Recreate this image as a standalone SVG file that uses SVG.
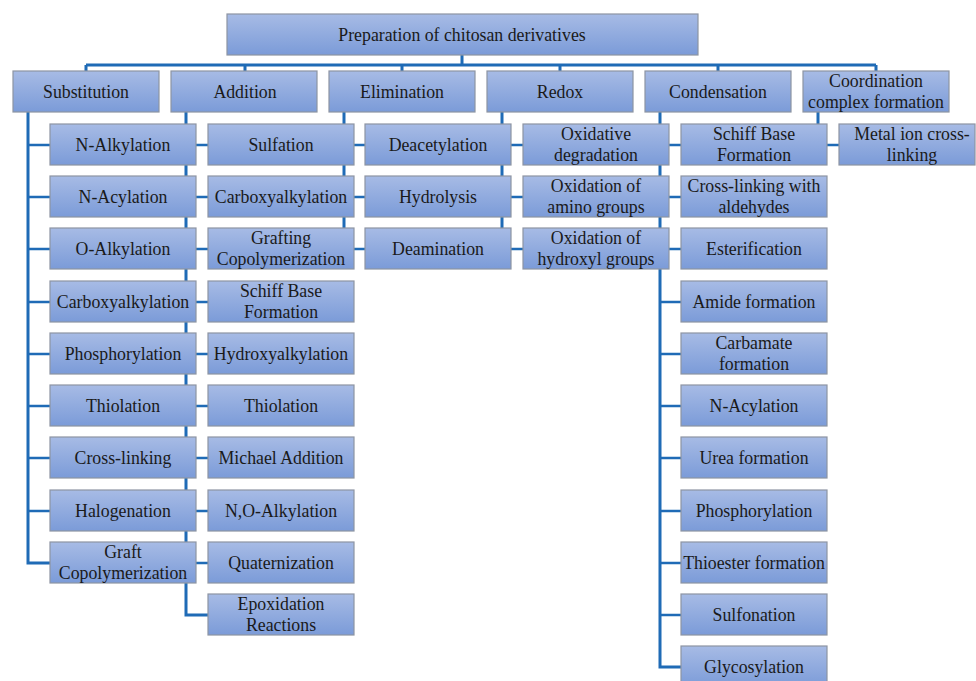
<svg xmlns="http://www.w3.org/2000/svg" width="976" height="681" viewBox="0 0 976 681">
<defs>
<linearGradient id="g" x1="0" y1="0" x2="0" y2="1">
<stop offset="0" stop-color="#a7bbe5"/>
<stop offset="1" stop-color="#7b9bd8"/>
</linearGradient>
<style>
.b{fill:url(#g);stroke:#8d94a2;stroke-width:1.2}
.t{font-size:17.8px;fill:#1a1a1a;text-anchor:middle}
.v{stroke:#1f6bb6;stroke-width:3;fill:none}
.s{stroke:#1f6bb6;stroke-width:2.5;fill:none}
</style>
</defs>
<rect width="976" height="681" fill="#ffffff"/>
<g id="connectors">
<path class="v" d="M462 55V65M86 65H876M86 65V71M245 65V71M402 65V71M560 65V71M718 65V71M876 65V71"/>
<path class="v" d="M28 112V563H50"/>
<path class="s" d="M28 145H50M28 197H50M28 249H50M28 302H50M28 354H50M28 406H50M28 458H50M28 511H50"/>
<path class="v" d="M186 112V615H208"/>
<path class="s" d="M186 145H208M186 197H208M186 249H208M186 302H208M186 354H208M186 406H208M186 458H208M186 511H208M186 563H208"/>
<path class="v" d="M344 112V249"/>
<path class="s" d="M344 145H365M344 197H365M344 249H365"/>
<path class="v" d="M502 112V249"/>
<path class="s" d="M502 145H523M502 197H523M502 249H523"/>
<path class="v" d="M660 112V667H681"/>
<path class="s" d="M660 145H681M660 197H681M660 249H681M660 302H681M660 354H681M660 406H681M660 458H681M660 511H681M660 563H681M660 615H681"/>
<path class="v" d="M818 112V145"/>
<path class="s" d="M818 145H839"/>
</g>
<g id="nodes" font-family="Liberation Serif, DejaVu Serif, serif">
<g id="root"><rect class="b" x="227" y="14" width="471" height="41"/><text class="t" x="462" y="41">Preparation of chitosan derivatives</text></g>
<g id="substitution"><rect class="b" x="13" y="71" width="146" height="41"/><text class="t" x="86" y="98">Substitution</text></g>
<g id="addition"><rect class="b" x="171" y="71" width="146" height="41"/><text class="t" x="245" y="98">Addition</text></g>
<g id="elimination"><rect class="b" x="329" y="71" width="146" height="41"/><text class="t" x="402" y="98">Elimination</text></g>
<g id="redox"><rect class="b" x="487" y="71" width="146" height="41"/><text class="t" x="560" y="98">Redox</text></g>
<g id="condensation"><rect class="b" x="645" y="71" width="146" height="41"/><text class="t" x="718" y="98">Condensation</text></g>
<g id="coordination"><rect class="b" x="803" y="71" width="146" height="41"/><text class="t" x="876" y="87">Coordination<tspan x="876" y="108">complex formation</tspan></text></g>

<g id="s1"><rect class="b" x="50" y="124" width="146" height="41"/><text class="t" x="123" y="151">N-Alkylation</text></g>
<g id="s2"><rect class="b" x="50" y="176" width="146" height="41"/><text class="t" x="123" y="203">N-Acylation</text></g>
<g id="s3"><rect class="b" x="50" y="228" width="146" height="41"/><text class="t" x="123" y="255">O-Alkylation</text></g>
<g id="s4"><rect class="b" x="50" y="281" width="146" height="41"/><text class="t" x="123" y="308">Carboxyalkylation</text></g>
<g id="s5"><rect class="b" x="50" y="333" width="146" height="41"/><text class="t" x="123" y="360">Phosphorylation</text></g>
<g id="s6"><rect class="b" x="50" y="385" width="146" height="41"/><text class="t" x="123" y="412">Thiolation</text></g>
<g id="s7"><rect class="b" x="50" y="437" width="146" height="41"/><text class="t" x="123" y="464">Cross-linking</text></g>
<g id="s8"><rect class="b" x="50" y="490" width="146" height="41"/><text class="t" x="123" y="517">Halogenation</text></g>
<g id="s9"><rect class="b" x="50" y="542" width="146" height="41"/><text class="t" x="123" y="558">Graft<tspan x="123" y="579">Copolymerization</tspan></text></g>

<g id="a1"><rect class="b" x="208" y="124" width="146" height="41"/><text class="t" x="281" y="151">Sulfation</text></g>
<g id="a2"><rect class="b" x="208" y="176" width="146" height="41"/><text class="t" x="281" y="203">Carboxyalkylation</text></g>
<g id="a3"><rect class="b" x="208" y="228" width="146" height="41"/><text class="t" x="281" y="244">Grafting<tspan x="281" y="265">Copolymerization</tspan></text></g>
<g id="a4"><rect class="b" x="208" y="281" width="146" height="41"/><text class="t" x="281" y="297">Schiff Base<tspan x="281" y="318">Formation</tspan></text></g>
<g id="a5"><rect class="b" x="208" y="333" width="146" height="41"/><text class="t" x="281" y="360">Hydroxyalkylation</text></g>
<g id="a6"><rect class="b" x="208" y="385" width="146" height="41"/><text class="t" x="281" y="412">Thiolation</text></g>
<g id="a7"><rect class="b" x="208" y="437" width="146" height="41"/><text class="t" x="281" y="464">Michael Addition</text></g>
<g id="a8"><rect class="b" x="208" y="490" width="146" height="41"/><text class="t" x="281" y="517">N,O-Alkylation</text></g>
<g id="a9"><rect class="b" x="208" y="542" width="146" height="41"/><text class="t" x="281" y="569">Quaternization</text></g>
<g id="a10"><rect class="b" x="208" y="594" width="146" height="41"/><text class="t" x="281" y="610">Epoxidation<tspan x="281" y="631">Reactions</tspan></text></g>

<g id="e1"><rect class="b" x="365" y="124" width="146" height="41"/><text class="t" x="438" y="151">Deacetylation</text></g>
<g id="e2"><rect class="b" x="365" y="176" width="146" height="41"/><text class="t" x="438" y="203">Hydrolysis</text></g>
<g id="e3"><rect class="b" x="365" y="228" width="146" height="41"/><text class="t" x="438" y="255">Deamination</text></g>

<g id="r1"><rect class="b" x="523" y="124" width="146" height="41"/><text class="t" x="596" y="140">Oxidative<tspan x="596" y="161">degradation</tspan></text></g>
<g id="r2"><rect class="b" x="523" y="176" width="146" height="41"/><text class="t" x="596" y="192">Oxidation of<tspan x="596" y="213">amino groups</tspan></text></g>
<g id="r3"><rect class="b" x="523" y="228" width="146" height="41"/><text class="t" x="596" y="244">Oxidation of<tspan x="596" y="265">hydroxyl groups</tspan></text></g>

<g id="c1"><rect class="b" x="681" y="124" width="146" height="41"/><text class="t" x="754" y="140">Schiff Base<tspan x="754" y="161">Formation</tspan></text></g>
<g id="c2"><rect class="b" x="681" y="176" width="146" height="41"/><text class="t" x="754" y="192">Cross-linking with<tspan x="754" y="213">aldehydes</tspan></text></g>
<g id="c3"><rect class="b" x="681" y="228" width="146" height="41"/><text class="t" x="754" y="255">Esterification</text></g>
<g id="c4"><rect class="b" x="681" y="281" width="146" height="41"/><text class="t" x="754" y="308">Amide formation</text></g>
<g id="c5"><rect class="b" x="681" y="333" width="146" height="41"/><text class="t" x="754" y="349">Carbamate<tspan x="754" y="370">formation</tspan></text></g>
<g id="c6"><rect class="b" x="681" y="385" width="146" height="41"/><text class="t" x="754" y="412">N-Acylation</text></g>
<g id="c7"><rect class="b" x="681" y="437" width="146" height="41"/><text class="t" x="754" y="464">Urea formation</text></g>
<g id="c8"><rect class="b" x="681" y="490" width="146" height="41"/><text class="t" x="754" y="517">Phosphorylation</text></g>
<g id="c9"><rect class="b" x="681" y="542" width="146" height="41"/><text class="t" x="754" y="569">Thioester formation</text></g>
<g id="c10"><rect class="b" x="681" y="594" width="146" height="41"/><text class="t" x="754" y="621">Sulfonation</text></g>
<g id="c11"><rect class="b" x="681" y="646" width="146" height="41"/><text class="t" x="754" y="673">Glycosylation</text></g>

<g id="m1"><rect class="b" x="839" y="124" width="136" height="41"/><text class="t" x="912" y="140">Metal ion cross-<tspan x="912" y="161">linking</tspan></text></g>
</g>
</svg>
